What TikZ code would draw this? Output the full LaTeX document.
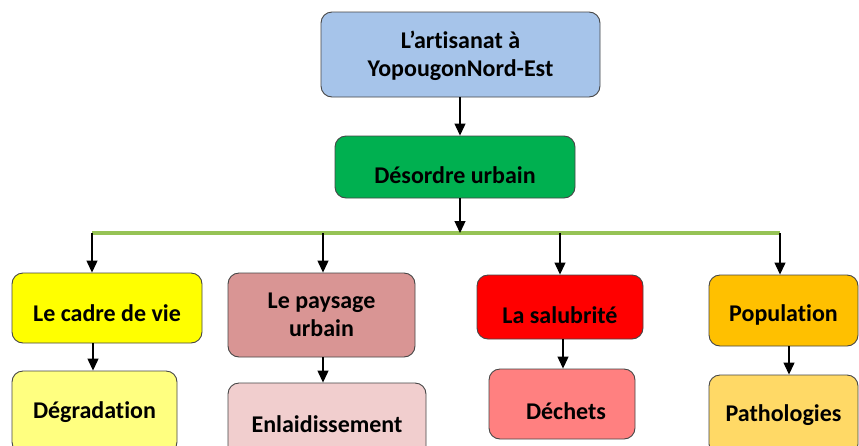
\documentclass[tikz,border=0pt]{standalone}
\usepackage{fontspec}
\setmainfont[Ligatures=NoCommon]{Carlito}
\usetikzlibrary{arrows.meta}
\definecolor{cTop}{RGB}{166,196,234}
\definecolor{cGreen}{RGB}{0,176,80}
\definecolor{cYel}{RGB}{255,255,0}
\definecolor{cPay}{RGB}{217,149,148}
\definecolor{cRed}{RGB}{255,0,0}
\definecolor{cOra}{RGB}{255,192,0}
\definecolor{cYelL}{RGB}{255,255,128}
\definecolor{cPink}{RGB}{241,206,206}
\definecolor{cSalm}{RGB}{255,128,128}
\definecolor{cGold}{RGB}{255,217,102}
\definecolor{cLine}{RGB}{150,195,85}
\definecolor{cBord}{RGB}{70,70,70}
\newcommand{\dn}[2]{\raisebox{-#1}[\height][\depth]{#2}}
\begin{document}
\begin{tikzpicture}[x=1pt,y=-1pt,
  box/.style={draw=cBord,line width=0.9pt,rounded corners=11pt,align=center,
    inner sep=0pt,font=\bfseries\fontsize{24}{28}\selectfont,text=black},
  arr/.style={draw=black,line width=1.2pt,-{Triangle[width=11pt,length=12pt]}}]
\useasboundingbox (0,0) rectangle (859,445);
\clip (0,0) rectangle (859,445);
\fill[white] (0,0) rectangle (859,445);
\node[box,fill=cTop,minimum width=279pt,minimum height=85pt] (top) at (460.5,54.5) {\dn{1.5pt}{L’artisanat à}\\\dn{1.5pt}{YopougonNord-Est}};
\node[box,fill=cGreen,minimum width=240pt,minimum height=62pt] (des) at (455,167) {\dn{8pt}{Désordre urbain}};
\coordinate (bl) at (92,233);
\coordinate (br) at (780,233);
\coordinate (bm) at (460,233);
\node[box,fill=cYel,minimum width=190pt,minimum height=70pt] (cadre) at (107,308) {\dn{5pt}{Le cadre de vie}};
\node[box,fill=cPay,minimum width=187pt,minimum height=84pt] (pay) at (321.5,315) {Le paysage\\urbain};
\node[box,fill=cRed,minimum width=166pt,minimum height=64pt] (sal) at (560,307) {\dn{8pt}{La salubrité}};
\node[box,fill=cOra,minimum width=149pt,minimum height=71pt] (pop) at (783.5,310.5) {\dn{4pt}{Population}};
\node[box,fill=cYelL,minimum width=165pt,minimum height=82pt] (deg) at (94.5,412) {Dégradation};
\node[box,fill=cPink,minimum width=198pt,minimum height=82pt] (enl) at (327,424) {Enlaidissement};
\node[box,fill=cSalm,minimum width=146pt,minimum height=70pt] (dec) at (562,404) {\dn{7pt}{\hspace*{8pt}Déchets}};
\node[box,fill=cGold,minimum width=149pt,minimum height=80pt] (pat) at (783.5,415) {Pathologies};
\draw[cLine,line width=4.5pt] (bl) -- (br);
\draw[arr] (top.south -| bm) -- (des.north -| bm);
\draw[arr] (des.south -| bm) -- (bm);
\draw[arr] (bl) -- (bl |- cadre.north);
\draw[arr] (323,233) -- (pay.north -| 323,0);
\draw[arr] (560,233) -- (sal.north);
\draw[arr] (br) -- (br |- pop.north);
\draw[arr] (cadre.south -| 93,0) -- (deg.north -| 93,0);
\draw[arr] (pay.south -| 323,0) -- (enl.north -| 323,0);
\draw[arr] (sal.south -| 563,0) -- (dec.north -| 563,0);
\draw[arr] (pop.south -| 789,0) -- (pat.north -| 789,0);
\end{tikzpicture}
\end{document}
